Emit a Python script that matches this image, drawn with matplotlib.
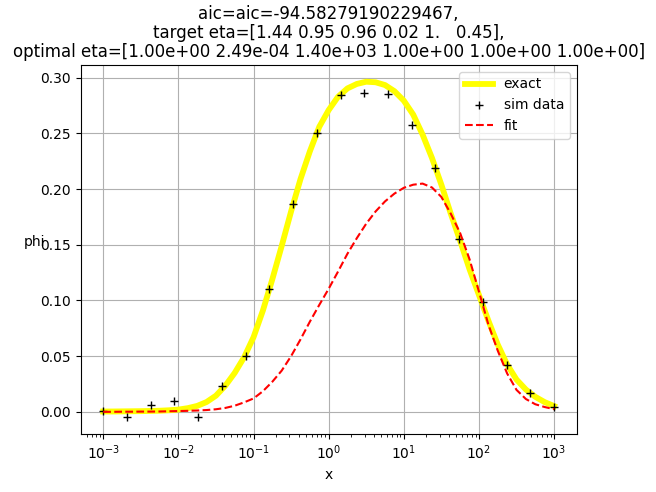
import numpy as np
import matplotlib
matplotlib.use("Agg")
import matplotlib.pyplot as plt

# simulated data points (x = 1e-3 .. 1e3, 20 points on a log grid)
sim_exp = [-3.0, -2.684, -2.368, -2.053, -1.737, -1.421, -1.105, -0.789, -0.474, -0.158,
           0.158, 0.474, 0.789, 1.105, 1.421, 1.737, 2.053, 2.368, 2.684, 3.0]
sim_phi = [0.001, -0.0048, 0.006, 0.0099, -0.0048, 0.0233, 0.050, 0.110, 0.187, 0.2506,
           0.2847, 0.2865, 0.2858, 0.258, 0.2193, 0.1556, 0.0988, 0.0421, 0.0167, 0.0042]

curve_exp = [-3.0, -2.875, -2.75, -2.625, -2.5, -2.375, -2.25, -2.125,
             -2.0, -1.875, -1.75, -1.625, -1.5, -1.375, -1.25, -1.125,
             -1.0, -0.875, -0.75, -0.625, -0.5, -0.375, -0.25, -0.125,
             0.0, 0.125, 0.25, 0.375, 0.5, 0.625, 0.75, 0.875,
             1.0, 1.125, 1.25, 1.375, 1.5, 1.625, 1.75, 1.875,
             2.0, 2.125, 2.25, 2.375, 2.5, 2.625, 2.75, 2.875, 3.0]
exact_phi = [0.0003, 0.0003, 0.0004, 0.0005, 0.0006, 0.0008, 0.001, 0.0014,
             0.002, 0.0033, 0.0053, 0.0088, 0.0145, 0.0235, 0.035, 0.049,
             0.067, 0.091, 0.119, 0.149, 0.180, 0.209, 0.234, 0.256,
             0.271, 0.283, 0.2905, 0.2945, 0.2965, 0.296, 0.2935, 0.288,
             0.2795, 0.267, 0.249, 0.228, 0.204, 0.178, 0.1535, 0.128,
             0.105, 0.082, 0.0605, 0.0425, 0.029, 0.020, 0.0135, 0.0087, 0.0052]
fit_phi = [0.0, 0.0, 0.0001, 0.0001, 0.0002, 0.0002, 0.0003, 0.0005,
           0.0007, 0.0009, 0.0012, 0.0016, 0.0023, 0.0035, 0.0055, 0.0085,
           0.012, 0.0185, 0.027, 0.037, 0.050, 0.065, 0.081, 0.096,
           0.1105, 0.126, 0.142, 0.156, 0.169, 0.180, 0.189, 0.196,
           0.2012, 0.204, 0.205, 0.2015, 0.193, 0.178, 0.1605, 0.137,
           0.108, 0.0785, 0.055, 0.0345, 0.0197, 0.0115, 0.0068, 0.0043, 0.0024]

title = ("aic=aic=-94.58279190229467,\n"
         "target eta=[1.44 0.95 0.96 0.02 1.   0.45],\n"
         "optimal eta=[1.00e+00 2.49e-04 1.40e+03 1.00e+00 1.00e+00 1.00e+00]")

fig, ax = plt.subplots(figsize=(6.56, 4.92), dpi=100)
fig.subplots_adjust(left=0.123, right=0.879, bottom=0.118, top=0.868)

x_curve = 10.0 ** np.array(curve_exp)
x_sim = 10.0 ** np.array(sim_exp)

ax.plot(x_curve, exact_phi, color='yellow', lw=4.2, label='exact')
ax.plot(x_sim, sim_phi, '+', color='black', label='sim data')
ax.plot(x_curve, fit_phi, '--', color='red', label='fit')

ax.set_xscale('log')
ax.set_xlabel('x')
ax.set_ylabel('phi', rotation=0)
ax.set_title(title, linespacing=1.05)
ax.grid(True)
ax.legend(loc='upper right')

fig.savefig('out.png')
